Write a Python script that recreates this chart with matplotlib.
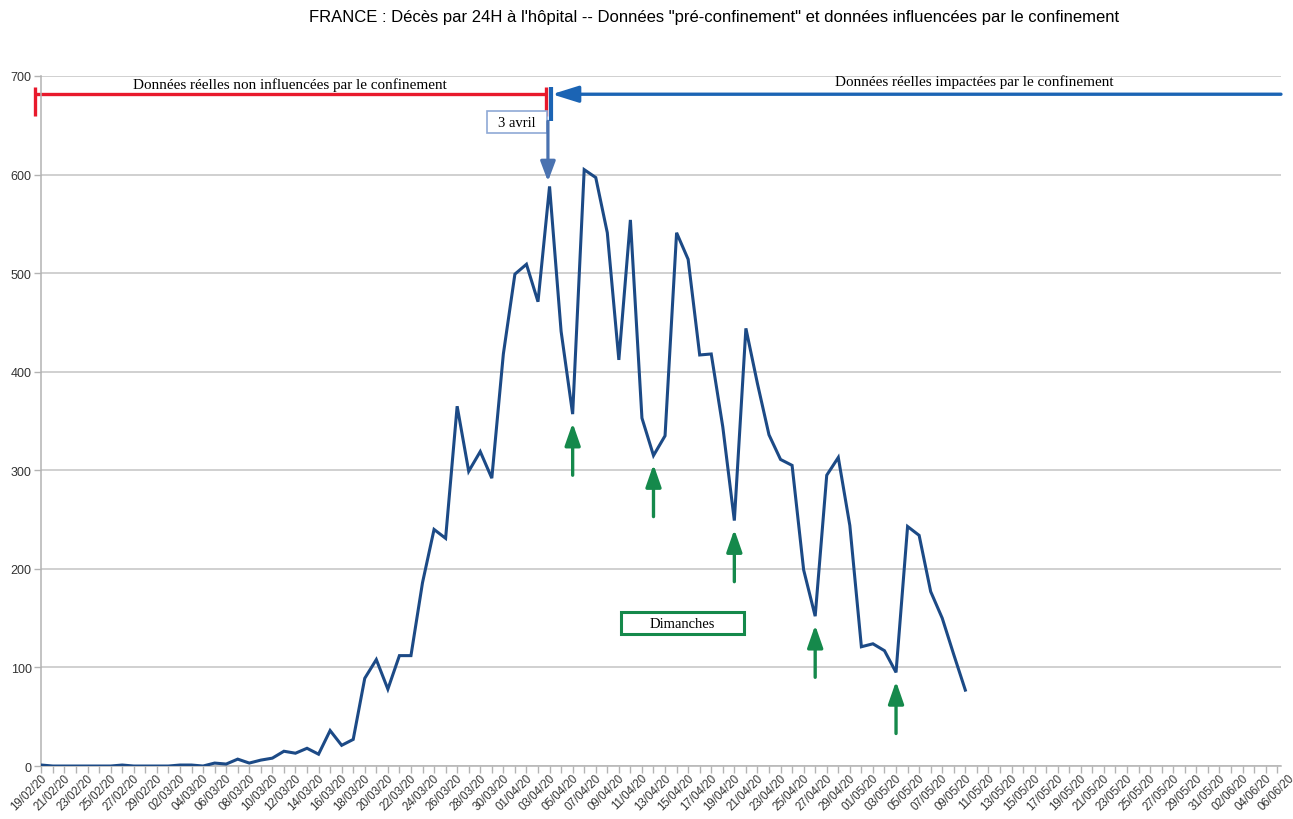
import matplotlib.pyplot as plt
import numpy as np
import pandas as pd
from matplotlib.patches import Rectangle

plt.rcParams["font.family"] = ["Liberation Sans", "DejaVu Sans"]
SERIF = ["Liberation Serif", "DejaVu Serif"]

# daily hospital deaths, one value per day from 19/02/20 to 09/05/20
start_date = "2020-02-19"
deaths = [1, 0, 0, 0, 0, 0, 0, 1, 0, 0, 0, 0, 1, 1, 0, 3, 2, 7, 3, 6,
          8, 15, 13, 18, 12, 36, 21, 27, 89, 108, 78, 112, 112, 186, 240, 231,
          365, 299, 319, 292, 418, 499, 509, 471, 588, 441, 357, 605, 597, 541,
          412, 554, 353, 315, 335, 541, 514, 417, 418, 344, 249, 444, 388, 336,
          311, 305, 199, 152, 295, 313, 244, 121, 124, 117, 95, 243, 234, 177,
          150, 113, 77]
axis_last_label = "06/06/20"
lockdown_date = "03/04/20"
sundays = ["05/04/20", "12/04/20", "19/04/20", "26/04/20", "03/05/20"]

title = ("FRANCE : Décès par 24H à l'hôpital -- Données \"pré-confinement\" "
         "et données influencées par le confinement")
text_before = "Données réelles non influencées par le confinement"
text_after = "Données réelles impactées par le confinement"

LINE = "#1c4a86"
GREEN = "#15894b"
RED = "#e8192c"
BLUE = "#1b64b4"
STEEL = "#4a72b0"
GRID = "#c4c4c4"
XMAX = 107.33

n_axis = pd.to_datetime(axis_last_label, format="%d/%m/%y") - pd.Timestamp(start_date)
axis_dates = pd.date_range(start_date, periods=n_axis.days + 1)
axis_labels = [d.strftime("%d/%m/%y") for d in axis_dates]
x = np.arange(len(deaths))
lock = axis_labels.index(lockdown_date)

fig = plt.figure(figsize=(12.93, 8.20), dpi=100)
ax = fig.add_axes([0.032, 0.0646, 0.9587, 0.8415])

ax.plot(x, deaths, color=LINE, lw=2.2, solid_joinstyle="miter", zorder=3)

ax.set_yticks(range(0, 701, 100))
ax.set_xticks(np.arange(int(XMAX) + 1))
ax.set_xlim(0, XMAX)
ax.set_ylim(0, 700)
ax.tick_params(axis="x", labelbottom=False, length=5, color="#b3b3b3", width=1)
ax.tick_params(axis="y", length=5, color="#b3b3b3", width=1, labelsize=9,
               labelcolor="#333333", pad=2)
ax.yaxis.grid(True, color=GRID, lw=1.1)
ax.set_axisbelow(True)
for side in ("top", "right"):
    ax.spines[side].set_visible(False)
for side in ("left", "bottom"):
    ax.spines[side].set_color("#b3b3b3")
    ax.spines[side].set_linewidth(1.1)

for i, lab in enumerate(axis_labels):
    if i % 2:
        continue
    ax.annotate(lab, xy=(i, 0), xycoords=("data", "axes fraction"),
                xytext=(-0.5, -4), textcoords="offset points", rotation=45,
                ha="right", va="top", rotation_mode="anchor", fontsize=8.3,
                color="#333333", annotation_clip=False)

# red bracket: data before lockdown effect
y_br = 681.5
ax.plot([-0.55, lock - 0.3], [y_br, y_br], color=RED, lw=2.4, clip_on=False,
        solid_capstyle="butt")
for xb in (-0.55, lock - 0.3):
    ax.plot([xb, xb], [659, 689], color=RED, lw=2.4, clip_on=False,
            solid_capstyle="butt")
ax.text(21.5, 691.5, text_before, family=SERIF, fontsize=10.9, ha="center",
        va="center")

# blue arrow: data influenced by lockdown
ax.plot([lock + 0.15, lock + 0.15], [654, 689], color=BLUE, lw=3,
        clip_on=False, solid_capstyle="butt")
ax.annotate("", xy=(lock + 0.2, y_br), xytext=(XMAX, y_br),
            arrowprops=dict(arrowstyle="-|>,head_length=16,head_width=5",
                            mutation_scale=1, color=BLUE, lw=2.4,
                            shrinkA=0, shrinkB=0),
            annotation_clip=False)
ax.text(80.8, 694.5, text_after, family=SERIF, fontsize=10.9, ha="center",
        va="center")

# "3 avril" label and arrow down to the peak
ax.add_patch(Rectangle((38.58, 642), 5.2, 22.3, fill=True, facecolor="white",
                       edgecolor="#8fa9d6", lw=1.2, zorder=4))
ax.text(41.2, 653, "3 avril", family=SERIF, fontsize=10.5, ha="center",
        va="center", zorder=5)
ax.annotate("", xy=(lock - 0.14, deaths[lock] + 5), xytext=(lock - 0.14, 654),
            arrowprops=dict(arrowstyle="-|>,head_length=12,head_width=4.5",
                            mutation_scale=1, color=STEEL, lw=2.3,
                            shrinkA=0, shrinkB=0), zorder=5)

# green arrows under the Sunday dips
for s in sundays:
    i = axis_labels.index(s)
    ax.annotate("", xy=(i, deaths[i] - 9), xytext=(i, deaths[i] - 62),
                arrowprops=dict(arrowstyle="-|>,head_length=13.5,head_width=4.7",
                                mutation_scale=1, color=GREEN, lw=2.4,
                                shrinkA=0, shrinkB=0), zorder=4)

ax.add_patch(Rectangle((50.2, 134), 10.63, 22.3, fill=True, facecolor="white",
                       edgecolor=GREEN, lw=2.2, zorder=4))
ax.text(55.5, 145, "Dimanches", family=SERIF, fontsize=10.5, ha="center",
        va="center", zorder=5)

fig.text(0.552, 0.979, title, ha="center", va="center", fontsize=12)

fig.savefig("out.png", dpi=100)
